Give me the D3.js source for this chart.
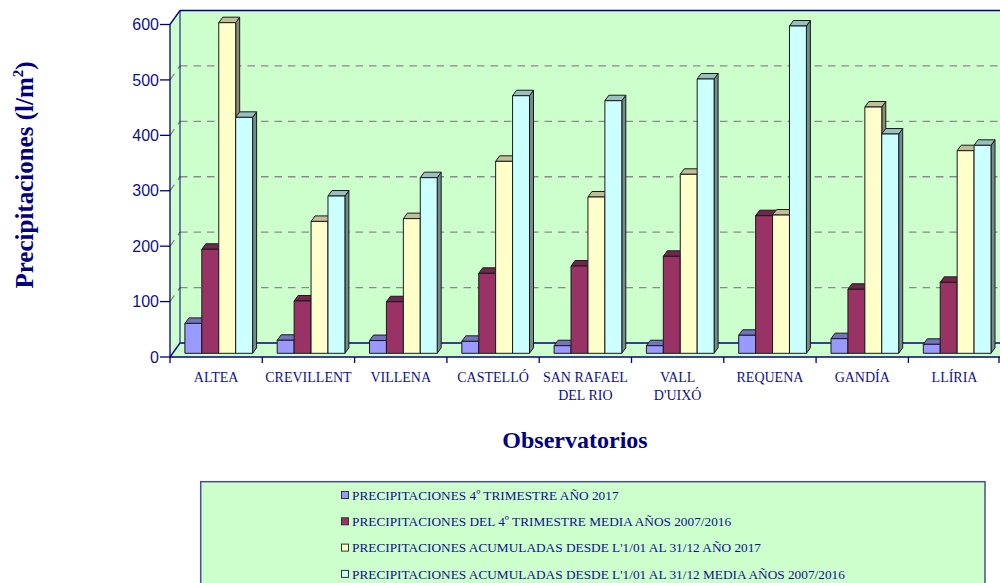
<!DOCTYPE html>
<html><head><meta charset="utf-8">
<script src="https://cdn.jsdelivr.net/npm/d3@7"></script>
<style>body{margin:0;background:#fff}svg{display:block}</style>
</head><body>
<svg id="c" width="1000" height="583"></svg>
<script>
const categories = ["ALTEA","CREVILLENT","VILLENA","CASTELLÓ","SAN RAFAEL\nDEL RIO","VALL\nD'UIXÓ","REQUENA","GANDÍA","LLÍRIA"];
const seriesNames = [
  "PRECIPITACIONES 4º TRIMESTRE AÑO 2017",
  "PRECIPITACIONES DEL 4º TRIMESTRE MEDIA AÑOS 2007/2016",
  "PRECIPITACIONES ACUMULADAS DESDE L'1/01 AL 31/12 AÑO 2017",
  "PRECIPITACIONES ACUMULADAS DESDE L'1/01 AL 31/12 MEDIA AÑOS 2007/2016"
];
const trim2017   = [54, 23.5, 23, 21.6, 13.7, 13.7, 32.5, 26.4, 16.2];
const trimMedia  = [187.7, 94.4, 93, 144.3, 157.5, 175, 248.3, 115.5, 128];
const acum2017   = [596.6, 238, 243, 346.4, 282, 323, 249.5, 444.4, 365.6];
const acumMedia  = [425.8, 283.8, 316.9, 464.8, 455.8, 495, 590.6, 395.7, 375.3];
const yTicks = [0, 100, 200, 300, 400, 500, 600];
const seriesColors = ["#9999FF", "#993366", "#FFFFCC", "#CCFFFF"];
const seriesValues = [trim2017, trimMedia, acum2017, acumMedia];

const svg = d3.select("#c");
const navy = "#000080";
const green = "#CCFFCC";
// geometry
const x0 = 170, xEnd = 170 + 9 * 92.3;
const wallDX = 10, wallDY = -14;      // depth of walls
const barDX = 2.6, barDY = -3.7;      // bar front position inside depth
const depDX = 4, depDY = -5.5;        // bar thickness

const y = d3.scaleLinear().domain([0, 600]).range([357, 24.5]);
const xCat = d3.scaleBand().domain(d3.range(categories.length)).range([x0, xEnd]).padding(0);
const xSer = d3.scaleBand().domain(d3.range(4)).range([12.3, xCat.bandwidth() - 12.3]).padding(0);

// Walls
const topY = y(600), botY = y(0);
svg.append("polygon")
  .attr("points", [[x0, topY], [x0 + wallDX, topY + wallDY], [x0 + wallDX, botY + wallDY], [x0, botY]].join(" "))
  .attr("fill", green);
svg.append("rect").attr("x", x0 + wallDX).attr("y", topY + wallDY)
  .attr("width", 1000 - x0 - wallDX + 20).attr("height", botY - topY).attr("fill", green);
svg.append("polygon")
  .attr("points", [[x0, botY], [x0 + wallDX, botY + wallDY], [1020, botY + wallDY], [1020, botY]].join(" "))
  .attr("fill", green);

// gridlines
const grid = svg.append("g").attr("stroke", "#8a8a8a").attr("stroke-width", 1.3)
  .attr("stroke-dasharray", "7.5,6").attr("fill", "none");
yTicks.filter(t => t > 0 && t < 600).forEach(t => {
  grid.append("line").attr("x1", x0 + wallDX).attr("x2", 1000).attr("y1", y(t) + wallDY).attr("y2", y(t) + wallDY);
  grid.append("line").attr("x1", x0).attr("x2", x0 + wallDX).attr("y1", y(t)).attr("y2", y(t) + wallDY)
    .attr("stroke-dasharray", null);
});

// wall edges
const edges = svg.append("g").attr("stroke", navy).attr("stroke-width", 1.3).attr("fill", "none");
edges.append("line").attr("x1", x0 + wallDX).attr("x2", 1000).attr("y1", topY + wallDY).attr("y2", topY + wallDY);
edges.append("line").attr("x1", x0).attr("x2", x0 + wallDX).attr("y1", topY).attr("y2", topY + wallDY);
edges.append("line").attr("x1", x0 + wallDX).attr("x2", x0 + wallDX).attr("y1", topY + wallDY).attr("y2", botY + wallDY).attr("stroke-width", 1);
edges.append("line").attr("x1", x0 + wallDX).attr("x2", 1000).attr("y1", botY + wallDY).attr("y2", botY + wallDY);
edges.append("line").attr("x1", x0).attr("x2", x0 + wallDX).attr("y1", botY).attr("y2", botY + wallDY);

// bars
function shade(c, k) { const h = d3.rgb(c); return d3.rgb(h.r * k, h.g * k, h.b * k).toString(); }
const bars = svg.append("g").attr("stroke", "#1a1a1a").attr("stroke-width", 1).attr("stroke-linejoin", "round");
categories.forEach((cat, ci) => {
  seriesValues.forEach((vals, si) => {
    const v = vals[ci];
    const xl = xCat(ci) + xSer(si) + barDX;
    const xr = xl + xSer.bandwidth();
    const yb = y(0) + barDY;
    const yt = y(v) + barDY;
    const col = seriesColors[si];
    const g = bars.append("g");
    g.append("polygon").attr("fill", shade(col, 0.55))
      .attr("points", [[xr, yt], [xr + depDX, yt + depDY], [xr + depDX, yb + depDY], [xr, yb]].join(" "));
    g.append("polygon").attr("fill", shade(col, 0.75))
      .attr("points", [[xl, yt], [xl + depDX, yt + depDY], [xr + depDX, yt + depDY], [xr, yt]].join(" "));
    g.append("rect").attr("x", xl).attr("y", yt).attr("width", xr - xl).attr("height", yb - yt).attr("fill", col);
  });
});

// front axes
const ax = svg.append("g").attr("stroke", navy).attr("stroke-width", 1.3).attr("fill", "none");
ax.append("line").attr("x1", x0).attr("x2", x0).attr("y1", topY).attr("y2", botY);
ax.append("line").attr("x1", x0).attr("x2", 1000).attr("y1", botY).attr("y2", botY);
yTicks.forEach(t => ax.append("line").attr("x1", x0 - 10).attr("x2", x0).attr("y1", y(t)).attr("y2", y(t)));
d3.range(categories.length + 1).forEach(i => {
  const xx = Math.min(x0 + i * xCat.bandwidth(), 999);
  ax.append("line").attr("x1", xx).attr("x2", xx).attr("y1", botY).attr("y2", botY + 6);
});

// y tick labels
svg.append("g").selectAll("text").data(yTicks).join("text")
  .attr("x", 159).attr("y", d => y(d)).attr("dy", "0.35em").attr("text-anchor", "end")
  .attr("font-family", "Liberation Sans, Arial, sans-serif").attr("font-size", 16).attr("fill", "#10108a")
  .text(d => d);

// x labels
const xl = svg.append("g").attr("font-family", "Liberation Serif, Times New Roman, serif")
  .attr("font-size", 14).attr("fill", "#10108a").attr("text-anchor", "middle");
categories.forEach((cat, ci) => {
  const lines = cat.split("\n");
  const t = xl.append("text").attr("x", xCat(ci) + xCat.bandwidth() / 2).attr("y", 382);
  lines.forEach((ln, li) => t.append("tspan").attr("x", xCat(ci) + xCat.bandwidth() / 2).attr("dy", li ? 18 : 0).text(ln));
});

// axis titles
svg.append("text").attr("x", 575).attr("y", 448).attr("text-anchor", "middle")
  .attr("font-family", "Liberation Serif, Times New Roman, serif").attr("font-weight", "bold")
  .attr("font-size", 24).attr("fill", navy).text("Observatorios");
const yt = svg.append("text").attr("transform", "translate(33,175) rotate(-90)").attr("text-anchor", "middle")
  .attr("font-family", "Liberation Serif, Times New Roman, serif").attr("font-weight", "bold")
  .attr("font-size", 25).attr("fill", navy);
yt.append("tspan").text("Precipitaciones (l/m");
yt.append("tspan").attr("font-size", 15).attr("dy", -10).text("2");
yt.append("tspan").attr("dy", 10).text(")");

// legend
svg.append("rect").attr("x", 200.7).attr("y", 481.7).attr("width", 784.3).attr("height", 120)
  .attr("fill", green).attr("stroke", "#4a4aa8").attr("stroke-width", 1.5);
const lg = svg.append("g");
seriesNames.forEach((name, i) => {
  const cy = 495 + i * 26.3;
  lg.append("rect").attr("x", 341.5).attr("y", cy - 3.5).attr("width", 7).attr("height", 7)
    .attr("fill", seriesColors[i]).attr("stroke", "#333").attr("stroke-width", 1);
  lg.append("text").attr("x", 352).attr("y", cy).attr("dy", "0.35em")
    .attr("font-family", "Liberation Serif, Times New Roman, serif").attr("font-size", 13.3)
    .attr("fill", "#10108a").text(name);
});
</script>
</body></html>
